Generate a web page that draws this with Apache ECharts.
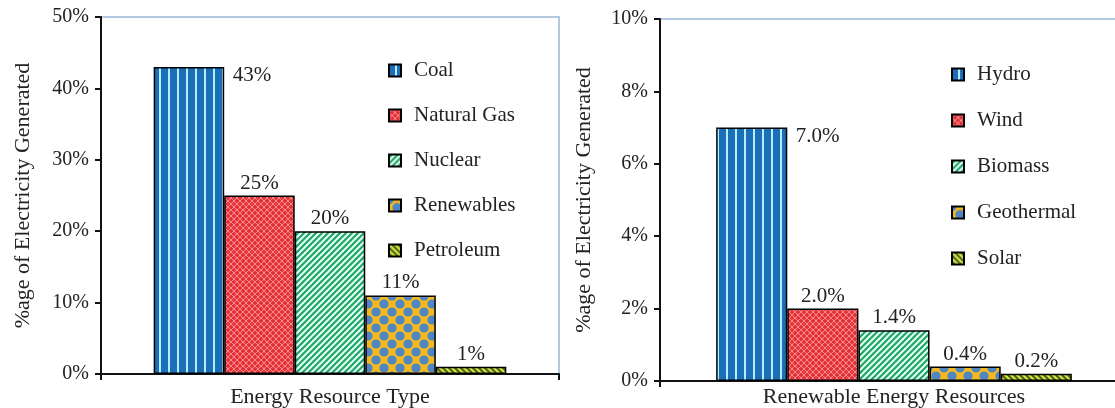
<!DOCTYPE html>
<html>
<head>
<meta charset="utf-8">
<title>Electricity generation by energy resource</title>
<script src="https://cdn.jsdelivr.net/npm/echarts@6/dist/echarts.min.js"></script>
<style>
  html, body { margin: 0; padding: 0; background: #ffffff; }
  #chart { width: 1115px; height: 408px; }
</style>
</head>
<body>
<div id="chart"></div>
<script>
// Share of electricity generated, by resource type (%)
const resourceTypes = ['Coal', 'Natural Gas', 'Nuclear', 'Renewables', 'Petroleum'];
const resourceShares = [43, 25, 20, 11, 1];

// Share of electricity generated, renewable resources only (%)
const renewableTypes = ['Hydro', 'Wind', 'Biomass', 'Geothermal', 'Solar'];
const renewableShares = [7.0, 2.0, 1.4, 0.4, 0.2];

// Y-axis ranges (percent)
const leftAxis = { max: 50, step: 10 };
const rightAxis = { max: 10, step: 2 };

const FONT = '"Liberation Serif", "Times New Roman", serif';
const TEXT = '#222222';

// Small repeating canvas tiles used as bar fills
function tile(w, h, draw) {
  const c = document.createElement('canvas');
  c.width = w; c.height = h;
  const g = c.getContext('2d');
  draw(g, w, h);
  return { image: c, repeat: 'repeat' };
}

function line(g, x1, y1, x2, y2) {
  g.beginPath(); g.moveTo(x1, y1); g.lineTo(x2, y2); g.stroke();
}

const fills = [
  // vertical light stripes on blue
  tile(9, 9, (g, w, h) => {
    g.fillStyle = '#1b6fb8'; g.fillRect(0, 0, w, h);
    g.fillStyle = '#b6ecff'; g.fillRect(6, 0, 2, h);
  }),
  // fine pale lattice on red
  tile(6, 6, (g, w, h) => {
    g.fillStyle = '#e8363e'; g.fillRect(0, 0, w, h);
    g.strokeStyle = '#f88a8a'; g.lineWidth = 1;
    line(g, 0, 3, 3, 0); line(g, 3, 0, 6, 3); line(g, 6, 3, 3, 6); line(g, 3, 6, 0, 3);
    g.fillStyle = '#b81c26'; g.fillRect(2.5, 2.5, 1, 1);
  }),
  // white forward diagonals on green
  tile(6, 6, (g, w, h) => {
    g.fillStyle = '#22a56a'; g.fillRect(0, 0, w, h);
    g.strokeStyle = '#e4fff2'; g.lineWidth = 2;
    line(g, -1, 7, 7, -1); line(g, -1, 1, 1, -1); line(g, 5, 7, 7, 5);
  }),
  // blue dots on amber, offset rows
  tile(16, 16, (g, w, h) => {
    g.fillStyle = '#f6b71e'; g.fillRect(0, 0, w, h);
    g.fillStyle = '#4d87c6';
    [[8, 8], [0, 0], [16, 0], [0, 16], [16, 16]].forEach(([x, y]) => {
      g.beginPath(); g.arc(x, y, 4.6, 0, Math.PI * 2); g.fill();
    });
  }),
  // yellow-green back diagonals on olive
  tile(6, 6, (g, w, h) => {
    g.fillStyle = '#4a6a24'; g.fillRect(0, 0, w, h);
    g.strokeStyle = '#dde83c'; g.lineWidth = 2;
    line(g, -1, -1, 7, 7); line(g, -1, 5, 1, 7); line(g, 5, -1, 7, 1);
  })
];

function barSeries(names, values, axisIndex, fmt, gap) {
  return names.map((name, i) => ({
    name: name,
    type: 'bar',
    xAxisIndex: axisIndex,
    yAxisIndex: axisIndex,
    data: [values[i]],
    barGap: '0%',
    barCategoryGap: gap,
    itemStyle: { color: fills[i], borderColor: '#000000', borderWidth: 1.5 },
    emphasis: { disabled: true },
    label: i === 0 ? {
      show: true,
      position: ['112%', -2],
      align: 'left',
      verticalAlign: 'top',
      formatter: p => fmt(p.value),
      fontFamily: FONT, fontSize: 21, color: TEXT
    } : {
      show: true,
      position: 'top',
      distance: 2,
      formatter: p => fmt(p.value),
      fontFamily: FONT, fontSize: 21, color: TEXT
    }
  }));
}

function valueAxis(gridIndex, range, gap) {
  return {
    type: 'value',
    gridIndex: gridIndex,
    min: 0, max: range.max, interval: range.step,
    name: '%age of Electricity Generated',
    nameLocation: 'middle',
    nameGap: gap,
    nameTextStyle: { fontFamily: FONT, fontSize: 22, color: TEXT },
    axisLine: { show: true, lineStyle: { color: '#111111', width: 2 } },
    axisTick: { show: true, length: 6, lineStyle: { color: '#111111', width: 2 } },
    axisLabel: { formatter: '{value}%', margin: 12, fontFamily: FONT, fontSize: 20, color: TEXT },
    splitLine: { show: false }
  };
}

function categoryAxis(gridIndex, title, gap) {
  return {
    type: 'category',
    gridIndex: gridIndex,
    data: [''],
    name: title,
    nameLocation: 'middle',
    nameGap: gap,
    nameTextStyle: { fontFamily: FONT, fontSize: 22, color: TEXT },
    axisLine: { show: true, lineStyle: { color: '#111111', width: 2 } },
    axisTick: { show: true, length: 6, lineStyle: { color: '#111111', width: 2 } },
    axisLabel: { show: false }
  };
}

function legend(names, left, top, gap) {
  return {
    orient: 'vertical',
    left: left, top: top,
    data: names,
    icon: 'rect',
    itemWidth: 12, itemHeight: 12,
    itemGap: gap,
    selectedMode: false,
    textStyle: { fontFamily: FONT, fontSize: 21, color: TEXT, lineHeight: 20, padding: [0, 0, 0, 8] }
  };
}

const chart = echarts.init(document.getElementById('chart'), null, { renderer: 'canvas' });

chart.setOption({
  animation: false,
  backgroundColor: '#ffffff',
  grid: [
    { left: 101, top: 17, width: 458, bottom: 34, outerBoundsMode: 'none', show: true, borderColor: '#9ab6da', borderWidth: 1.5, backgroundColor: 'transparent' },
    { left: 660, top: 19, width: 468, bottom: 27, outerBoundsMode: 'none', show: true, borderColor: '#9ab6da', borderWidth: 1.5, backgroundColor: 'transparent' }
  ],
  legend: [
    legend(resourceTypes, 383, 55, 24),
    legend(renewableTypes, 946, 59, 25)
  ],
  xAxis: [
    categoryAxis(0, 'Energy Resource Type', 12),
    categoryAxis(1, 'Renewable Energy Resources', 5)
  ],
  yAxis: [
    valueAxis(0, leftAxis, 67),
    valueAxis(1, rightAxis, 65)
  ],
  series: [
    ...barSeries(resourceTypes, resourceShares, 0, v => v + '%', '23%'),
    ...barSeries(renewableTypes, renewableShares, 1, v => v.toFixed(1) + '%', '24%')
  ]
});
</script>
</body>
</html>
